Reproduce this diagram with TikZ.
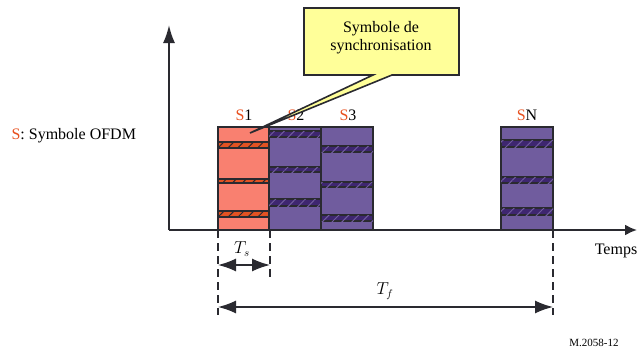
\documentclass[tikz,border=0pt]{standalone}
\usepackage{fontspec}
\setmainfont{Liberation Serif}
\usetikzlibrary{arrows.meta,patterns.meta}
\definecolor{lineg}{RGB}{42,42,48}
\definecolor{sred}{RGB}{232,80,30}
\definecolor{salmon1}{RGB}{249,128,112}
\definecolor{syncor}{RGB}{226,82,34}
\definecolor{ofdmpu}{RGB}{112,92,158}
\definecolor{darkpu}{RGB}{62,38,112}
\definecolor{callyel}{RGB}{255,255,153}
\newcommand{\Slab}[1]{\textcolor{sred}{S}#1}
\begin{document}
\begin{tikzpicture}[x=1pt,y=-1pt,font=\fontsize{16}{18}\selectfont,
	axis/.style={draw=lineg,line width=2pt},
	firstsym/.style={draw=lineg,line width=2pt,fill=salmon1},
	othersym/.style={draw=lineg,line width=2pt,fill=ofdmpu},
	syncband/.style={draw=lineg,line width=1.3pt,fill=syncor,
		postaction={pattern={Lines[angle=45,distance=7pt,line width=1pt]},pattern color=lineg}},
	databand/.style={draw=lineg,line width=1.3pt,fill=darkpu,
		postaction={pattern={Lines[angle=45,distance=7pt,line width=1pt]},pattern color=ofdmpu}},
	limit/.style={draw=lineg,line width=2.6pt,dash pattern=on 8pt off 5pt},
	dim/.style={draw=lineg,line width=1.6pt,{Latex[length=18pt,width=13pt]}-{Latex[length=18pt,width=13pt]}}]
	\useasboundingbox (0,0) rectangle (638,356);
	% symbols
	\draw[firstsym] (218,127) rectangle (269,230);
	\draw[syncband] (218,142) rectangle (269,148);
	\draw[syncband] (218,179) rectangle (269,183);
	\draw[syncband] (218,211) rectangle (269,217);
	\draw[othersym] (269,127) rectangle (321,230);
	\draw[databand] (269,131) rectangle (321,137);
	\draw[databand] (269,167) rectangle (321,172);
	\draw[databand] (269,199) rectangle (321,206);
	\draw[othersym] (321,127) rectangle (373,230);
	\draw[databand] (321,146) rectangle (373,152);
	\draw[databand] (321,182) rectangle (373,187);
	\draw[databand] (321,215) rectangle (373,221);
	\draw[othersym] (501,127) rectangle (553,230);
	\draw[databand] (501,140) rectangle (553,147);
	\draw[databand] (501,177) rectangle (553,183);
	\draw[databand] (501,208) rectangle (553,215);
	% axes
	\coordinate (O) at (169,230);
	\coordinate (ytop) at (169,25);
	\coordinate (xend) at (637,230);
	\draw[axis,-{Latex[length=18pt,width=12pt]}] (O) -- (ytop);
	\draw[axis,-{Latex[length=12pt,width=11pt]}] (O) -- (xend);
	\node (temps) at (616,251) {Temps};
	\node[anchor=west] (legend) at (8,136) {\textcolor{sred}{S}: Symbole OFDM};
	\node (lab1) at (244,115) {\Slab{1}};
	\node (lab2) at (296,115) {\Slab{2}};
	\node (lab3) at (348,115) {\Slab{3}};
	\node (labN) at (527,115) {\Slab{N}};
	% durations
	\coordinate (t0) at (218,230);
	\coordinate (t1) at (270,230);
	\coordinate (tN) at (553,230);
	\coordinate (t0b) at (218,315);
	\coordinate (t1b) at (270,277);
	\coordinate (tNb) at (553,315);
	\draw[limit] (t0) -- (t0b);
	\draw[limit] (t1) -- (t1b);
	\draw[limit] (tN) -- (tNb);
	\coordinate (tsa) at (218,265);
	\coordinate (tsb) at (270,265);
	\coordinate (tfa) at (218,307);
	\coordinate (tfb) at (553,307);
	\draw[dim] (tsa) -- (tsb);
	\draw[dim] (tfa) -- (tfb);
	\node (ts) at (242,249) {$T_s$};
	\node (tf) at (385,291) {$T_f$};
	% callout
	\coordinate (pa) at (373,75);
	\coordinate (pb) at (392,75);
	\coordinate (ptip) at (250,133);
	\draw[draw=lineg,line width=1.6pt,fill=callyel]
		(304,8) -- (459,8) -- (459,75) -- (pb) -- (ptip) -- (pa) -- (304,75) -- cycle;
	\node[align=center] (sync) at (381,38) {Symbole de\\synchronisation};
	\node[font=\fontsize{11}{13}\selectfont] (ref) at (594,343) {M.2058-12};
\end{tikzpicture}
\end{document}
